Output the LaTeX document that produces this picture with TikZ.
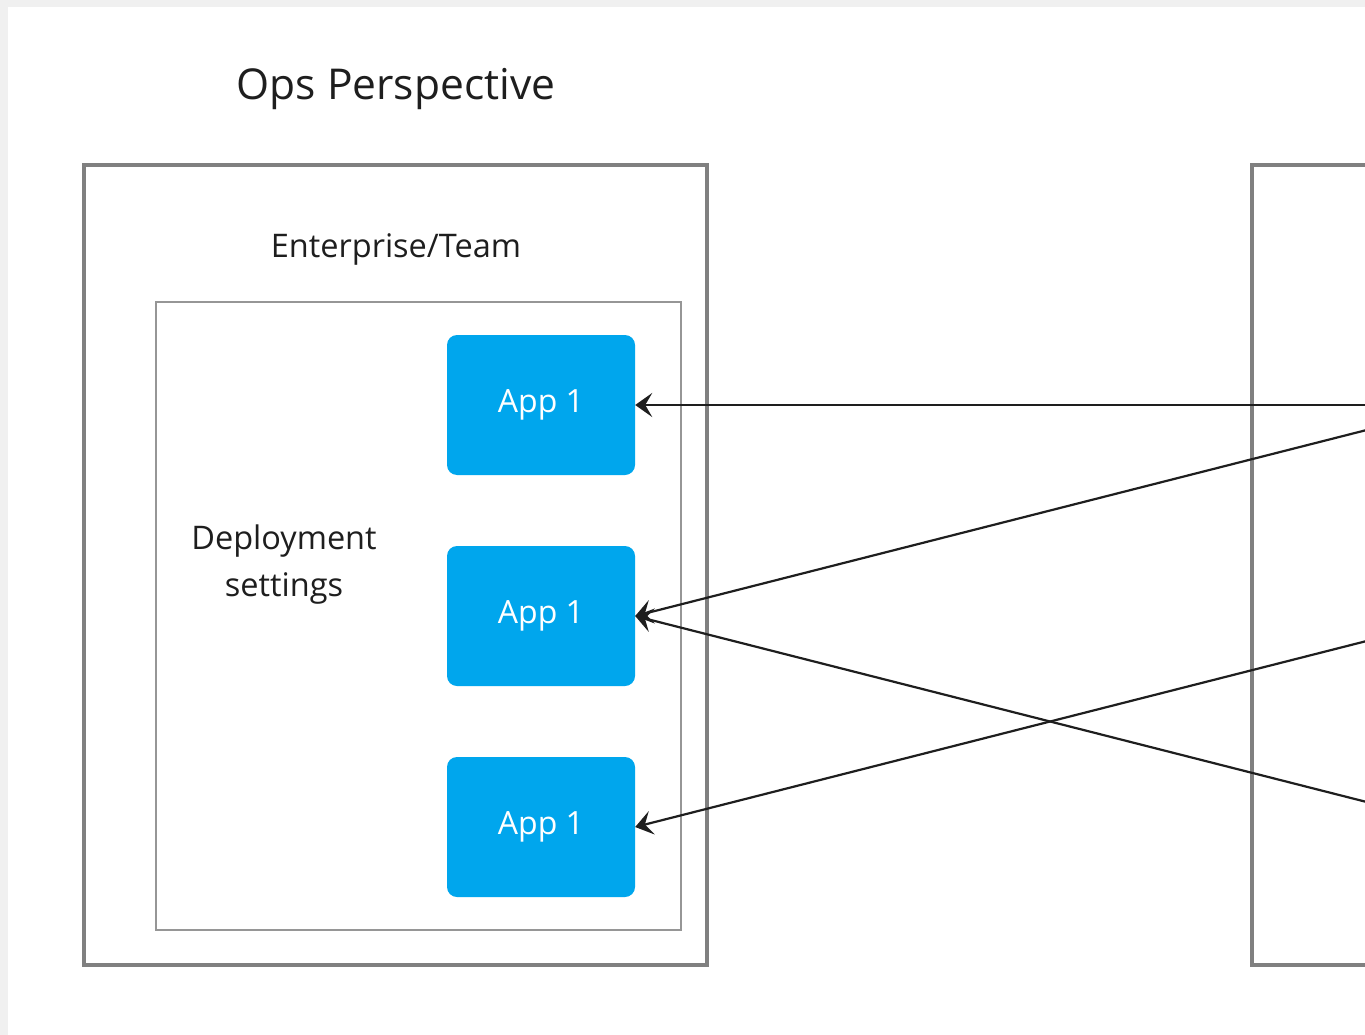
\documentclass[tikz,border=0pt]{standalone}
\usepackage{fontspec}
\setmainfont{Open Sans}
\usetikzlibrary{arrows.meta}
\definecolor{appblue}{RGB}{0,166,237}
\definecolor{boxgray}{RGB}{128,128,128}
\definecolor{inngray}{RGB}{150,150,150}
\definecolor{ink}{RGB}{30,30,30}
\begin{document}
\begin{tikzpicture}[x=1pt, y=-1pt, >={Stealth[length=17pt, width=24pt, inset=7pt]},
    frame/.style={draw=boxgray, line width=4pt, minimum width=623pt, minimum height=800pt, inner sep=0pt},
    inner/.style={draw=inngray, line width=2pt, minimum width=525pt, minimum height=628pt, inner sep=0pt},
    app/.style={fill=appblue, rounded corners=10pt, minimum width=188pt, minimum height=140pt, inner sep=0pt,
        text=white, font=\fontsize{32}{38}\selectfont},
    lbl/.style={text=ink, font=\fontsize{32.5}{47}\selectfont, inner sep=0pt},
    link/.style={->, draw=ink, line width=2.2pt}]
    \useasboundingbox (0,0) rectangle (1365,1035);
    \clip (0,0) rectangle (1365,1035);
    \fill[gray!12] (0,0) rectangle (1365,1035);
    \fill[white] (8,7) rectangle (1365,1035);
    % ops side
    \node[anchor=base, text=ink, inner sep=0pt, font=\fontsize{42.5}{50}\selectfont] (title) at (396,100) {Ops Perspective};
    \node[frame] (ops) at (395.5,565) {};
    \node[lbl, anchor=base] (team) at (396,257) {Enterprise/Team};
    \node[inner] (deploy) at (418.5,616) {};
    \node[lbl, anchor=base, align=center] (settings) at (284,596) {Deployment\\settings};
    \node[app] (app1) at (541,405) {App 1};
    \node[app] (app2) at (541,616) {App 1};
    \node[app] (app3) at (541,827) {App 1};
    % other side, cut off on the right
    \node[frame] (dev) at (1563.5,565) {};
    \coordinate (src1) at (1465,405);
    \coordinate (src2) at (1465,616);
    \coordinate (src3) at (1465,827);
    \draw[link] (src1) -- (app1.east);
    \draw[link] (src1) -- (app2.east);
    \draw[link] (src2) -- (app3.east);
    \draw[link] (src3) -- (app2.east);
\end{tikzpicture}
\end{document}
